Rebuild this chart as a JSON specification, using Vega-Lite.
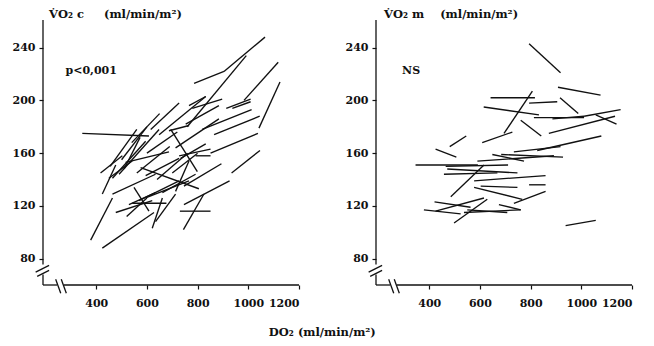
{
"$schema": "https://vega.github.io/schema/vega-lite/v6.json",
"padding": {"left": 12, "top": 8, "right": 5, "bottom": 5},
"spacing": 77,
"bounds": "flush",
"config": {
  "view": {"stroke": null},
  "axis": {"labelFont": "DejaVu Serif", "labelFontWeight": "bold", "labelFontSize": 11, "labelColor": "#111", "tickColor": "#111", "tickSize": 4, "tickWidth": 1.2, "domain": false, "grid": false, "title": null},
  "title": {"font": "DejaVu Serif", "fontWeight": "bold", "fontSize": 11.5, "color": "#111"}
},
"title": {"text": "DO₂ (ml/min/m²)", "orient": "bottom", "anchor": "middle", "offset": 19},
"datasets": {
  "left": [
{"x":786,"y":213,"x2":904,"y2":222},{"x":904,"y":222,"x2":1066,"y2":248},{"x":759,"y":180,"x2":992,"y2":234},{"x":983,"y":200,"x2":1118,"y2":229},{"x":1042,"y":179,"x2":1125,"y2":214},{"x":766,"y":196,"x2":832,"y2":203},{"x":779,"y":194,"x2":897,"y2":201},{"x":913,"y":194,"x2":1009,"y2":201},{"x":937,"y":194,"x2":1009,"y2":199},{"x":865,"y":174,"x2":1045,"y2":188},{"x":818,"y":178,"x2":1013,"y2":193},{"x":733,"y":156,"x2":832,"y2":167},{"x":727,"y":158,"x2":851,"y2":163},{"x":851,"y":160,"x2":1038,"y2":175},{"x":934,"y":145,"x2":1046,"y2":162},{"x":746,"y":135,"x2":894,"y2":152},{"x":746,"y":121,"x2":926,"y2":139},{"x":744,"y":102,"x2":825,"y2":129},{"x":730,"y":116,"x2":851,"y2":116},{"x":792,"y":158,"x2":851,"y2":158},{"x":345,"y":175,"x2":608,"y2":173},{"x":510,"y":148,"x2":573,"y2":172},{"x":417,"y":145,"x2":503,"y2":158},{"x":615,"y":178,"x2":727,"y2":198},{"x":648,"y":174,"x2":832,"y2":203},{"x":687,"y":177,"x2":766,"y2":181},{"x":753,"y":182,"x2":884,"y2":196},{"x":694,"y":178,"x2":799,"y2":146},{"x":713,"y":164,"x2":884,"y2":186},{"x":575,"y":149,"x2":805,"y2":133},{"x":516,"y":153,"x2":687,"y2":161},{"x":464,"y":141,"x2":595,"y2":169},{"x":490,"y":144,"x2":648,"y2":178},{"x":595,"y":143,"x2":727,"y2":156},{"x":378,"y":94,"x2":464,"y2":126},{"x":424,"y":88,"x2":628,"y2":115},{"x":542,"y":122,"x2":677,"y2":122},{"x":464,"y":129,"x2":634,"y2":144},{"x":477,"y":115,"x2":621,"y2":124},{"x":424,"y":129,"x2":477,"y2":151},{"x":450,"y":141,"x2":542,"y2":154},{"x":529,"y":121,"x2":634,"y2":130},{"x":549,"y":134,"x2":608,"y2":116},{"x":621,"y":103,"x2":661,"y2":126},{"x":634,"y":108,"x2":713,"y2":129},{"x":569,"y":124,"x2":727,"y2":139},{"x":595,"y":126,"x2":766,"y2":139},{"x":661,"y":130,"x2":792,"y2":144},{"x":713,"y":131,"x2":766,"y2":154},
{"x":455,"y":150,"x2":560,"y2":178},{"x":540,"y":168,"x2":650,"y2":190},{"x":500,"y":155,"x2":600,"y2":180},{"x":560,"y":145,"x2":690,"y2":165},{"x":600,"y":160,"x2":720,"y2":176},{"x":640,"y":140,"x2":760,"y2":160},{"x":520,"y":112,"x2":600,"y2":126},{"x":700,"y":145,"x2":800,"y2":160}
  ],
  "right": [
{"x":794,"y":243,"x2":918,"y2":221},{"x":908,"y":210,"x2":1076,"y2":204},{"x":642,"y":202,"x2":817,"y2":202},{"x":695,"y":175,"x2":807,"y2":207},{"x":794,"y":198,"x2":905,"y2":199},{"x":916,"y":202,"x2":988,"y2":190},{"x":615,"y":195,"x2":833,"y2":189},{"x":813,"y":187,"x2":1011,"y2":187},{"x":886,"y":186,"x2":1011,"y2":188},{"x":1011,"y":188,"x2":1155,"y2":193},{"x":1057,"y":189,"x2":1139,"y2":182},{"x":872,"y":175,"x2":1133,"y2":188},{"x":761,"y":185,"x2":842,"y2":173},{"x":609,"y":168,"x2":728,"y2":176},{"x":826,"y":162,"x2":1079,"y2":173},{"x":734,"y":161,"x2":918,"y2":165},{"x":590,"y":154,"x2":892,"y2":158},{"x":684,"y":159,"x2":928,"y2":157},{"x":346,"y":151,"x2":592,"y2":151},{"x":425,"y":163,"x2":507,"y2":157},{"x":481,"y":165,"x2":546,"y2":173},{"x":471,"y":148,"x2":748,"y2":145},{"x":458,"y":144,"x2":669,"y2":145},{"x":577,"y":139,"x2":859,"y2":143},{"x":603,"y":135,"x2":748,"y2":134},{"x":794,"y":136,"x2":859,"y2":136},{"x":577,"y":134,"x2":767,"y2":125},{"x":734,"y":122,"x2":859,"y2":131},{"x":485,"y":127,"x2":616,"y2":151},{"x":421,"y":123,"x2":563,"y2":119},{"x":379,"y":117,"x2":524,"y2":114},{"x":425,"y":116,"x2":616,"y2":126},{"x":498,"y":107,"x2":629,"y2":125},{"x":675,"y":121,"x2":761,"y2":117},{"x":537,"y":115,"x2":761,"y2":117},{"x":550,"y":117,"x2":708,"y2":115},{"x":938,"y":105,"x2":1057,"y2":109},{"x":649,"y":159,"x2":774,"y2":154},{"x":465,"y":150,"x2":711,"y2":151}
  ],
  "axes": [
{"x":190,"y":75.5,"x2":190,"y2":261},{"x":190,"y":60,"x2":190,"y2":68},{"x":190,"y":60,"x2":246,"y2":60},{"x":272,"y":60,"x2":1200,"y2":60},
{"x":161,"y":69.8,"x2":214,"y2":74.9},{"x":167,"y":66.6,"x2":214,"y2":71.1},
{"x":240,"y":64.3,"x2":260,"y2":53.7},{"x":262,"y":64.3,"x2":282,"y2":53.7}
  ]
},
"hconcat": [
  {
    "width": 256, "height": 265,
    "title": {"text": "V̇O₂ c\u00a0\u00a0\u00a0\u00a0\u00a0(ml/min/m²)", "anchor": "start", "frame": "group", "dx": 6, "offset": -1},
    "layer": [
      {"data": {"name": "left"}, "mark": {"type": "rule", "color": "#111", "strokeWidth": 1.35},
       "encoding": {
         "x": {"field": "x", "type": "quantitative", "scale": {"domain": [190, 1200], "nice": false, "zero": false}, "axis": {"values": [400,500,600,700,800,900,1000,1100,1200], "labelExpr": "datum.value % 200 == 0 ? datum.label : ''", "labelPadding": 8, "format": "d"}},
         "y": {"field": "y", "type": "quantitative", "scale": {"domain": [60, 261], "nice": false, "zero": false}, "axis": {"values": [80,100,120,140,160,180,200,220,240], "labelExpr": "datum.value % 40 == 0 ? datum.label : ''", "labelPadding": 4}},
         "x2": {"field": "x2"}, "y2": {"field": "y2"}}},
      {"data": {"name": "axes"}, "mark": {"type": "rule", "color": "#111", "strokeWidth": 1.3},
       "encoding": {"x": {"field": "x", "type": "quantitative"}, "y": {"field": "y", "type": "quantitative"}, "x2": {"field": "x2"}, "y2": {"field": "y2"}}},
      {"data": {"values": [{"x": 279, "y": 222, "t": "p<0,001"}]}, "mark": {"type": "text", "align": "left", "baseline": "middle", "font": "DejaVu Serif", "fontWeight": "bold", "fontSize": 11, "color": "#111"},
       "encoding": {"x": {"field": "x", "type": "quantitative"}, "y": {"field": "y", "type": "quantitative"}, "text": {"field": "t"}}}
    ]
  },
  {
    "width": 256, "height": 265,
    "title": {"text": "V̇O₂ m\u00a0\u00a0\u00a0\u00a0(ml/min/m²)", "anchor": "start", "frame": "group", "dx": 8, "offset": -1},
    "layer": [
      {"data": {"name": "right"}, "mark": {"type": "rule", "color": "#111", "strokeWidth": 1.35},
       "encoding": {
         "x": {"field": "x", "type": "quantitative", "scale": {"domain": [190, 1200], "nice": false, "zero": false}, "axis": {"values": [400,500,600,700,800,900,1000,1100,1200], "labelExpr": "datum.value % 200 == 0 ? datum.label : ''", "labelPadding": 8, "format": "d"}},
         "y": {"field": "y", "type": "quantitative", "scale": {"domain": [60, 261], "nice": false, "zero": false}, "axis": {"values": [80,100,120,140,160,180,200,220,240], "labelExpr": "datum.value % 40 == 0 ? datum.label : ''", "labelPadding": 4}},
         "x2": {"field": "x2"}, "y2": {"field": "y2"}}},
      {"data": {"name": "axes"}, "mark": {"type": "rule", "color": "#111", "strokeWidth": 1.3},
       "encoding": {"x": {"field": "x", "type": "quantitative"}, "y": {"field": "y", "type": "quantitative"}, "x2": {"field": "x2"}, "y2": {"field": "y2"}}},
      {"data": {"values": [{"x": 293, "y": 222, "t": "NS"}]}, "mark": {"type": "text", "align": "left", "baseline": "middle", "font": "DejaVu Serif", "fontWeight": "bold", "fontSize": 11, "color": "#111"},
       "encoding": {"x": {"field": "x", "type": "quantitative"}, "y": {"field": "y", "type": "quantitative"}, "text": {"field": "t"}}}
    ]
  }
]
}
